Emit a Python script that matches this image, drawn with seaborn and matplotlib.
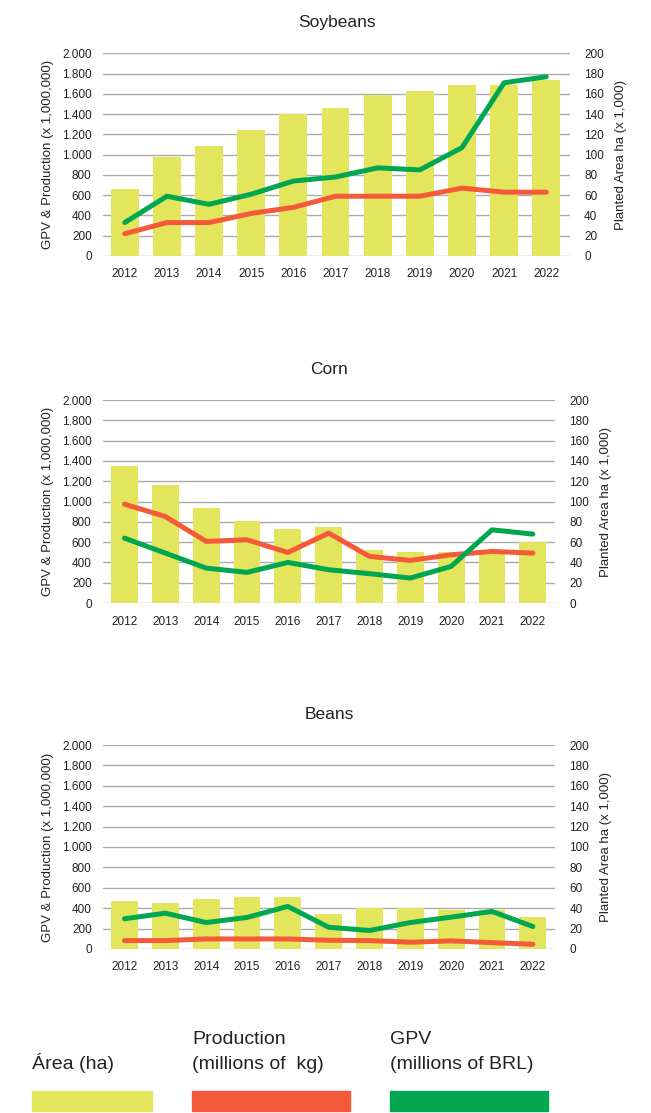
import matplotlib
matplotlib.use("Agg")
import matplotlib.pyplot as plt
import matplotlib.ticker as mticker
from matplotlib.patches import Rectangle
import seaborn as sns
import pandas as pd

# ---------------------------------------------------------------------------
# data
# ---------------------------------------------------------------------------
years = [str(y) for y in range(2012, 2023)]

# planted area, ha x 1,000 (right axis)
soy_area = [66, 98, 109, 124, 140, 146, 159, 163, 169, 169, 174]
corn_area = [135, 116, 94, 81, 73, 75, 52, 50, 50, 49, 60]
beans_area = [47, 45, 49, 51, 51, 34, 40, 40, 38, 38, 31]

# production, millions of kg (left axis)
soy_prod = [220, 330, 330, 420, 480, 590, 590, 590, 670, 630, 630]
corn_prod = [974, 852, 607, 623, 498, 689, 459, 420, 475, 508, 492]
beans_prod = [82, 82, 98, 98, 98, 85, 82, 66, 79, 62, 46]

# GPV, millions of BRL (left axis)
soy_gpv = [330, 590, 510, 610, 740, 780, 870, 850, 1070, 1710, 1770]
corn_gpv = [639, 492, 344, 302, 400, 328, 289, 246, 361, 721, 679]
beans_gpv = [296, 351, 259, 309, 417, 213, 181, 259, 312, 368, 220]

AREA_COLOR = "#e3e65c"
PROD_COLOR = "#f45a3a"
GPV_COLOR = "#00a650"
TEXT_COLOR = "#222222"
GRID_COLOR = "#acacac"

sns.set_theme(style="white")
plt.rcParams["font.family"] = ["Liberation Sans", "DejaVu Sans"]


def dot_thousands(v, pos):
    return f"{int(round(v)):,}".replace(",", ".")


def draw_panel(fig, rect, title, area, prod, gpv, xlim):
    df = pd.DataFrame({"year": years, "area": area, "prod": prod, "gpv": gpv})

    # bars live on the base axes (ticks shown on the right), lines on the twin
    ax = fig.add_axes(rect)
    sns.barplot(data=df, x="year", y="area", color=AREA_COLOR, saturation=1,
                width=0.66, linewidth=0, ax=ax)
    for p in ax.patches:
        p.set_zorder(3)
    ax.set_ylim(0, 200)
    ax.set_yticks(range(0, 201, 20))
    ax.set_xlim(*xlim)
    ax.grid(False)
    # horizontal guides behind the bars
    for t in ax.get_yticks():
        ax.axhline(t, color=GRID_COLOR, linewidth=1.0, zorder=1)
    ax.set_xlabel("")

    ax2 = ax.twinx()
    sns.lineplot(data=df, x="year", y="prod", color=PROD_COLOR, linewidth=3.6,
                 ax=ax2, sort=False)
    sns.lineplot(data=df, x="year", y="gpv", color=GPV_COLOR, linewidth=3.6,
                 ax=ax2, sort=False)
    ax2.grid(False)
    ax2.set_ylim(0, 2000)
    ax2.set_yticks(range(0, 2001, 200))
    ax2.yaxis.set_major_formatter(mticker.FuncFormatter(dot_thousands))
    ax2.set_xlim(*xlim)
    ax2.set_xlabel("")

    # swap sides: lines scale on the left, area scale on the right
    ax2.yaxis.tick_left()
    ax2.yaxis.set_label_position("left")
    ax.yaxis.tick_right()
    ax.yaxis.set_label_position("right")

    ax2.set_ylabel("GPV & Production (x 1,000,000)", fontsize=9.5,
                   color=TEXT_COLOR, labelpad=6)
    ax.set_ylabel("Planted Area ha (x 1,000)", fontsize=9.5, color=TEXT_COLOR,
                  labelpad=8)
    ax.tick_params(axis="x", length=0, labelsize=8.5, colors=TEXT_COLOR, pad=9)
    ax.tick_params(axis="y", length=0, labelsize=8.5, colors=TEXT_COLOR,
                   pad=10)
    ax2.tick_params(axis="y", length=0, labelsize=8.5, colors=TEXT_COLOR,
                    pad=8)

    for a in (ax, ax2):
        for s in a.spines.values():
            s.set_visible(False)

    ax.set_title(title, fontsize=12.5, color=TEXT_COLOR, pad=19)
    return ax


fig = plt.figure(figsize=(6.51, 11.13), dpi=100)

draw_panel(fig, [0.158, 0.770, 0.718, 0.182], "Soybeans",
           soy_area, soy_prod, soy_gpv, (-0.52, 10.57))
draw_panel(fig, [0.158, 0.4582, 0.695, 0.1824], "Corn",
           corn_area, corn_prod, corn_gpv, (-0.53, 10.55))
draw_panel(fig, [0.158, 0.1474, 0.695, 0.1832], "Beans",
           beans_area, beans_prod, beans_gpv, (-0.53, 10.55))

# legend drawn as text + colored blocks, like the original
W, H = 651, 1113
legend_items = [
    ("Área (ha)", AREA_COLOR, 32, 152),
    ("Production\n(millions of  kg)", PROD_COLOR, 192, 350),
    ("GPV\n(millions of BRL)", GPV_COLOR, 390, 548),
]
for label, color, x0, x1 in legend_items:
    fig.add_artist(Rectangle((x0 / W, 1 - 1111 / H), (x1 - x0) / W, 20 / H,
                             transform=fig.transFigure, color=color))
    fig.text(x0 / W, 1 - 1073 / H, label, fontsize=14, color=TEXT_COLOR,
             ha="left", va="bottom", linespacing=1.6)

fig.savefig("out.png", dpi=100)
